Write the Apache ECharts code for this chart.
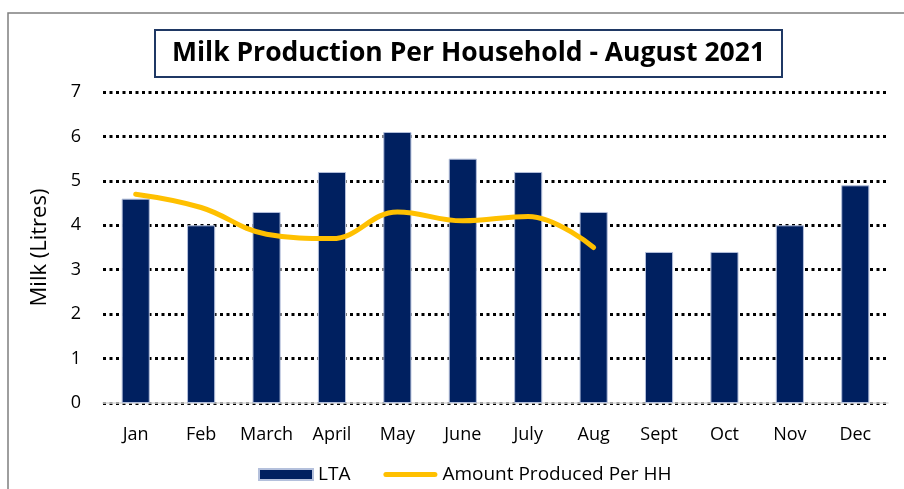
<!DOCTYPE html>
<html>
<head>
<meta charset="utf-8">
<script src="https://cdn.jsdelivr.net/npm/echarts@6/dist/echarts.min.js"></script>
<style>
  html, body { margin: 0; padding: 0; background: #fff; }
  #chart { width: 904px; height: 489px; }
</style>
</head>
<body>
<div id="chart"></div>
<script>
// 月份
const months = ['Jan', 'Feb', 'March', 'April', 'May', 'June', 'July', 'Aug', 'Sept', 'Oct', 'Nov', 'Dec'];
// LTA 柱状数据
const ltaValues = [4.6, 4.0, 4.3, 5.2, 6.1, 5.5, 5.2, 4.3, 3.4, 3.4, 4.0, 4.9];
// 当年产量（到 8 月）
const producedValues = [4.7, 4.4, 3.8, 3.7, 4.3, 4.1, 4.2, 3.5];

const fontFamily = '"Open Sans", "Liberation Sans", sans-serif';

const myChart = echarts.init(document.getElementById('chart'));

const option = {
  animation: false,
  textStyle: { fontFamily: fontFamily },
  title: {
    text: 'Milk Production Per Household - August 2021',
    left: 155,
    top: 30,
    padding: [10, 17, 10, 17],
    borderColor: '#1F3864',
    borderWidth: 2,
    textStyle: {
      fontFamily: fontFamily,
      fontSize: 26.5,
      fontWeight: 'bold',
      color: '#000'
    }
  },
  graphic: [
    {
      type: 'rect',
      shape: { x: 8, y: 13, width: 920, height: 500 },
      style: { fill: 'none', stroke: '#7f7f7f', lineWidth: 1.5 },
      silent: true,
      z: -1
    }
  ],
  grid: {
    left: 103,
    right: 16,
    top: 92,
    bottom: 86
  },
  legend: {
    bottom: 0,
    left: 253,
    itemGap: 33,
    itemWidth: 54,
    itemHeight: 11,
    textStyle: { fontSize: 19, color: '#000', fontFamily: fontFamily },
    data: [
      { name: 'LTA', icon: 'rect' },
      {
        name: 'Amount Produced Per HH',
        icon: 'path://M2.5,0 L51.5,0 A2.5,2.5 0 0 1 51.5,5 L2.5,5 A2.5,2.5 0 0 1 2.5,0 Z',
        itemStyle: { color: '#FFC000', borderWidth: 0 },
        lineStyle: { width: 0 }
      }
    ]
  },
  xAxis: {
    type: 'category',
    data: months,
    axisLine: { lineStyle: { color: '#d9d9d9', width: 1.5 } },
    axisTick: { show: false },
    axisLabel: { color: '#000', fontSize: 18, margin: 23, interval: 0 }
  },
  yAxis: {
    type: 'value',
    min: 0,
    max: 7,
    interval: 1,
    name: 'Milk (Litres)',
    nameLocation: 'middle',
    nameGap: 52,
    nameTextStyle: { fontSize: 22, color: '#000' },
    axisLine: { show: false },
    axisTick: { show: false },
    axisLabel: { color: '#000', fontSize: 18, margin: 22 },
    splitLine: {
      show: true,
      lineStyle: { color: '#000', width: 3, type: [3, 3.5] }
    }
  },
  series: [
    {
      name: 'LTA',
      type: 'bar',
      data: ltaValues,
      barWidth: '43%',
      itemStyle: { color: '#002060', borderColor: '#b4c0dc', borderWidth: 1 }
    },
    {
      name: 'Amount Produced Per HH',
      type: 'line',
      data: producedValues,
      smooth: 0.4,
      symbol: 'none',
      lineStyle: { color: '#FFC000', width: 5, cap: 'round' },
      itemStyle: { color: '#FFC000' }
    }
  ]
};

myChart.setOption(option);
</script>
</body>
</html>
